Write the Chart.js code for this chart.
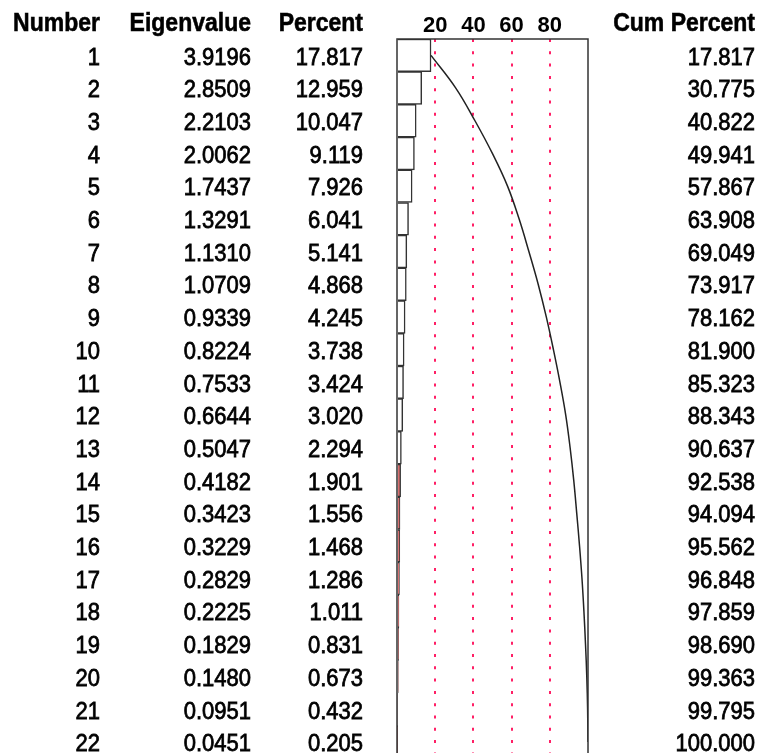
<!DOCTYPE html>
<html>
<head>
<meta charset="utf-8">
<script src="https://cdn.jsdelivr.net/npm/chart.js@4"></script>
<style>
  html, body { margin: 0; padding: 0; background: #fff; overflow: hidden; }
  canvas { display: block; }
</style>
</head>
<body>
<canvas id="c" width="761" height="760"></canvas>
<script>
// eigenvalue table
const numbers = ["1","2","3","4","5","6","7","8","9","10","11","12","13","14","15","16","17","18","19","20","21","22"];
const eigenvalues = [3.9196, 2.8509, 2.2103, 2.0062, 1.7437, 1.3291, 1.1310, 1.0709, 0.9339, 0.8224, 0.7533,
  0.6644, 0.5047, 0.4182, 0.3423, 0.3229, 0.2829, 0.2225, 0.1829, 0.1480, 0.0951, 0.0451];
const percent = [17.817, 12.959, 10.047, 9.119, 7.926, 6.041, 5.141, 4.868, 4.245, 3.738, 3.424,
  3.020, 2.294, 1.901, 1.556, 1.468, 1.286, 1.011, 0.831, 0.673, 0.432, 0.205];
const cumPercent = [17.817, 30.775, 40.822, 49.941, 57.867, 63.908, 69.049, 73.917, 78.162, 81.900, 85.323,
  88.343, 90.637, 92.538, 94.094, 95.562, 96.848, 97.859, 98.690, 99.363, 99.795, 100.000];
const tickLabels = ["20", "40", "60", "80"];
const headers = ["Number", "Eigenvalue", "Percent", "Cum Percent"];

const FONT = '"Liberation Sans", Arial, sans-serif';
const GRID = "#ff1f66";

// text columns drawn next to the plot, rows taken from the y scale
const tablePlugin = {
  id: "tableText",
  afterDraw(chart) {
    const ctx = chart.ctx;
    const y = chart.scales.y;
    const cols = [
      { x: 100, vals: numbers },
      { x: 251, vals: eigenvalues.map(v => v.toFixed(4)) },
      { x: 363, vals: percent.map(v => v.toFixed(3)) },
      { x: 755, vals: cumPercent.map(v => v.toFixed(3)) }
    ];
    const put = (txt, x, yy, font, thick) => {
      ctx.save();
      ctx.translate(x, yy);
      ctx.scale(1, 1.1);
      ctx.font = font;
      ctx.fillStyle = "#000";
      ctx.strokeStyle = "#000";
      ctx.lineWidth = thick;
      ctx.textAlign = "right";
      ctx.textBaseline = "middle";
      ctx.fillText(txt, 0, 0);
      if (thick > 0) ctx.strokeText(txt, 0, 0);
      ctx.restore();
    };
    cols.forEach((col, ci) => {
      put(headers[ci], col.x, 24, "bold 23px " + FONT, 0.5);
      col.vals.forEach((t, i) => {
        put(t, col.x, y.getPixelForValue(i) + 2.5, "22px " + FONT, 0.7);
      });
    });
    // plot frame
    const a = chart.chartArea;
    ctx.save();
    ctx.strokeStyle = "#333";
    ctx.lineWidth = 1.5;
    ctx.strokeRect(a.left, a.top, a.right - a.left, a.bottom - a.top);
    ctx.restore();
  }
};

new Chart(document.getElementById("c"), {
  type: "bar",
  data: {
    labels: numbers,
    datasets: [
      {
        type: "line",
        label: "Cum Percent",
        data: cumPercent,
        indexAxis: "y",
        borderColor: "#222",
        borderWidth: 1.5,
        pointRadius: 0,
        tension: 0.4,
        fill: false,
        order: 0
      },
      {
        label: "Percent",
        data: percent,
        backgroundColor: percent.map(v => v < 2 ? "#d87070" : "#ffffff"),
        borderColor: "#333",
        borderWidth: 1.5,
        barPercentage: 1,
        categoryPercentage: 1,
        order: 1
      }
    ]
  },
  options: {
    indexAxis: "y",
    responsive: false,
    animation: false,
    devicePixelRatio: 1,
    layout: { padding: { left: 397, right: 173, top: 0, bottom: 1.6 } },
    plugins: { legend: { display: false }, tooltip: { enabled: false } },
    scales: {
      x: {
        position: "top",
        min: 0,
        max: 100,
        afterFit(scale) { scale.height = 39; },
        border: { display: false, dash: [3, 9.3] },
        grid: {
          drawTicks: false,
          lineWidth: 2,
          color: ctx => (ctx.tick && (ctx.tick.value === 0 || ctx.tick.value === 100)) ? "rgba(0,0,0,0)" : GRID
        },
        ticks: {
          stepSize: 20,
          padding: 0,
          color: "#000",
          font: { family: FONT, size: 22, weight: 700 },
          callback: (v) => tickLabels.includes(String(v)) ? String(v) : ""
        }
      },
      y: {
        display: false
      }
    }
  },
  plugins: [tablePlugin]
});
</script>
</body>
</html>
